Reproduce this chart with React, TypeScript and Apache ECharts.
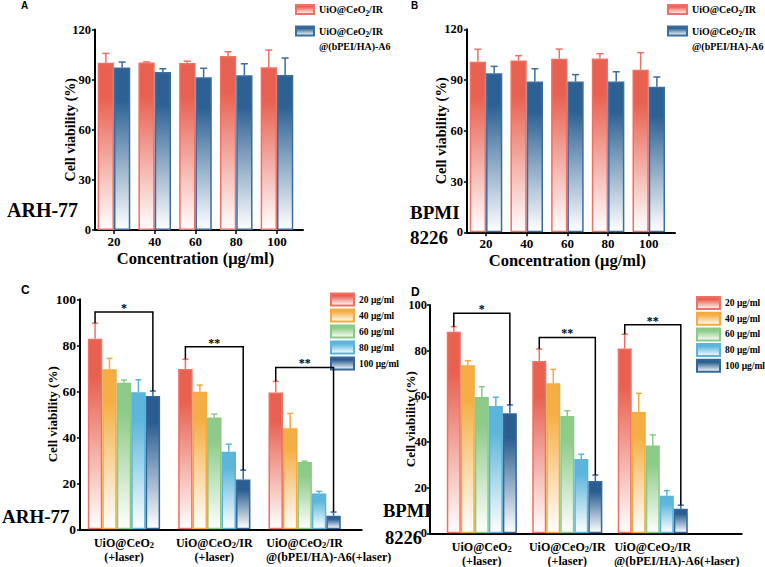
import React, { useEffect, useRef } from 'react';
import * as echarts from 'echarts';

// ---------- data ----------
const concentrations = ['20', '40', '60', '80', '100'];
const pairNames = ['UiO@CeO2/IR', 'UiO@CeO2/IR\n@(bPEI/HA)-A6'];

// Panel A (ARH-77)
const aIR = [100.1, 100.3, 99.9, 104.1, 97.4];
const aIRErr = [5.6, 0.3, 1.1, 2.6, 10.3];
const aHA = [97.3, 94.5, 91.4, 92.6, 92.8];
const aHAErr = [3.2, 2.0, 5.4, 6.9, 10.1];

// Panel B (BPMI 8226)
const bIR = [100.8, 101.6, 102.6, 102.8, 96.1];
const bIRErr = [7.4, 2.8, 5.7, 2.8, 10.1];
const bHA = [94.0, 89.2, 89.2, 89.2, 86.1];
const bHAErr = [4.1, 7.5, 4.0, 5.7, 5.7];

// Panels C / D
const groupLabels = ['UiO@CeO2\n(+laser)', 'UiO@CeO2/IR\n(+laser)', 'UiO@CeO2/IR\n@(bPEI/HA)-A6(+laser)'];
const doseNames = ['20 μg/ml', '40 μg/ml', '60 μg/ml', '80 μg/ml', '100 μg/ml'];

const c20 = [82.9, 69.7, 59.5];
const c40 = [69.6, 59.8, 43.9];
const c60 = [63.7, 48.6, 29.3];
const c80 = [59.6, 33.7, 15.6];
const c100 = [58.0, 21.7, 5.9];
const c20Err = [6.7, 4.2, 4.8];
const c40Err = [4.7, 2.9, 6.5];
const c60Err = [1.2, 1.5, 0.3];
const c80Err = [5.4, 3.3, 0.9];
const c100Err = [2.1, 4.0, 1.6];

const d20 = [88.3, 75.5, 80.9];
const d40 = [73.6, 65.7, 53.1];
const d60 = [59.7, 51.4, 38.5];
const d80 = [55.8, 32.5, 16.5];
const d100 = [52.6, 22.9, 10.8];
const d20Err = [2.2, 5.2, 6.3];
const d40Err = [2.0, 6.1, 8.2];
const d60Err = [4.5, 2.3, 4.6];
const d80Err = [3.8, 2.1, 2.2];
const d100Err = [3.6, 2.6, 1.5];

const cBracket = [94.5, 79.4, 70.4];
const dBracket = [96.4, 85.8, 91.4];
const significance = ['*', '**', '**'];

// ---------- styles ----------
const FONT = 'Liberation Serif';
const SANS = 'Liberation Sans';

const pairColors = [
  { fill: '#E8604F', line: '#EF7064' },
  { fill: '#2D6193', line: '#3A6DA0' },
];
const doseColors = [
  { fill: '#E8604F', line: '#EF7064' },
  { fill: '#F5AE45', line: '#F5AA3E' },
  { fill: '#8DCB88', line: '#8ACA85' },
  { fill: '#5CB6DB', line: '#59B3DA' },
  { fill: '#2B5E90', line: '#3467A0' },
];

function grad(c: string) {
  return {
    type: 'linear', x: 0, y: 0, x2: 0, y2: 1,
    colorStops: [
      { offset: 0, color: c },
      { offset: 0.2, color: c },
      { offset: 1, color: '#ffffff' },
    ],
  };
}

const richLine = (s: string, style = 't') => '{' + style + '|' + s.replace('CeO2', 'CeO}{s|2}{' + style + '|') + '}';

function barSeries(name: string, data: number[], axis: number, col: { fill: string; line: string }, gap: string) {
  return {
    type: 'bar', name, data, xAxisIndex: axis, yAxisIndex: axis,
    barGap: '0%', barCategoryGap: gap, z: 2,
    itemStyle: { color: grad(col.fill), borderColor: col.line, borderWidth: 1.5 },
  };
}

function errSeries(means: number[], errs: number[], axis: number, k: number, n: number, gapFrac: number, color: string, cap: number) {
  return {
    type: 'custom', xAxisIndex: axis, yAxisIndex: axis, z: 3, silent: true,
    data: means.map((m, i) => [i, m, m + errs[i]]),
    encode: { x: 0, y: [1, 2] },
    renderItem: (_p: any, api: any) => {
      const cat = api.value(0);
      const base = api.coord([cat, api.value(1)]);
      const top = api.coord([cat, api.value(2)]);
      const catW = api.size([1, 0])[0];
      const groupW = catW * (1 - gapFrac);
      const bw = groupW / n;
      const x = base[0] - groupW / 2 + bw * (k + 0.5);
      return {
        type: 'group',
        children: [
          { type: 'line', shape: { x1: x, y1: base[1], x2: x, y2: top[1] }, style: { stroke: color, lineWidth: 1.5 } },
          { type: 'line', shape: { x1: x - cap, y1: top[1], x2: x + cap, y2: top[1] }, style: { stroke: color, lineWidth: 1.5 } },
        ],
      };
    },
  };
}

function bracketSeries(levels: number[], leftTops: number[], rightTops: number[], axis: number, n: number, gapFrac: number) {
  return {
    type: 'custom', xAxisIndex: axis, yAxisIndex: axis, z: 4, silent: true,
    data: levels.map((l, i) => [i, l, leftTops[i], rightTops[i]]),
    encode: { x: 0, y: [1, 2, 3] },
    renderItem: (params: any, api: any) => {
      const i = api.value(0);
      const c = api.coord([i, api.value(1)]);
      const catW = api.size([1, 0])[0];
      const groupW = catW * (1 - gapFrac);
      const bw = groupW / n;
      const xL = c[0] - groupW / 2 + bw * 0.5;
      const xR = c[0] - groupW / 2 + bw * (n - 0.5);
      const yL = api.coord([i, api.value(2)])[1];
      const yR = api.coord([i, api.value(3)])[1];
      return {
        type: 'group',
        children: [
          { type: 'polyline', shape: { points: [[xL, yL], [xL, c[1]], [xR, c[1]], [xR, yR]] }, style: { stroke: '#000', lineWidth: 1.5, fill: 'none' } },
          {
            type: 'text', x: (xL + xR) / 2, y: c[1] - 4,
            style: { text: significance[params.dataIndex], fill: '#000', font: `bold 12px ${FONT}`, align: 'center', verticalAlign: 'middle', textAlign: 'center', textVerticalAlign: 'middle' },
          },
        ],
      };
    },
  };
}

function frameX(idx: number) {
  return {
    type: 'value', gridIndex: idx, min: 0, max: 1,
    axisLine: { show: true, onZero: false, lineStyle: { color: '#000', width: 2 } },
    axisTick: { show: false }, axisLabel: { show: false }, splitLine: { show: false },
  };
}
function frameY(idx: number, max: number, interval: number, fs: number, nameFs: number, nameGap: number, margin = 4) {
  return {
    type: 'value', gridIndex: idx, min: 0, max, interval,
    name: 'Cell viability (%)', nameLocation: 'middle', nameGap, nameMoveOverlap: false,
    nameTextStyle: { fontFamily: FONT, fontWeight: 'bold', fontSize: nameFs, color: '#000' },
    axisLine: { show: true, lineStyle: { color: '#000', width: 2 } },
    axisTick: { show: true, length: 3, lineStyle: { color: '#000', width: 1.5 } },
    axisLabel: { margin, fontFamily: FONT, fontWeight: 'bold', fontSize: fs, color: '#000' },
    splitLine: { show: false },
  };
}
function hiddenY(idx: number, max: number) {
  return { type: 'value', gridIndex: idx, min: 0, max, show: false, splitLine: { show: false } };
}
function concX(idx: number) {
  return {
    type: 'category', gridIndex: idx, data: concentrations,
    axisLine: { show: false },
    axisTick: { show: true, alignWithLabel: true, length: 4, lineStyle: { color: '#000', width: 1.5 } },
    axisLabel: { margin: 6, fontFamily: FONT, fontWeight: 'bold', fontSize: 13, lineHeight: 11, color: '#000' },
    name: 'Concentration (μg/ml)', nameLocation: 'middle', nameGap: 21, nameMoveOverlap: false,
    nameTextStyle: { fontFamily: FONT, fontWeight: 'bold', fontSize: 16.5, lineHeight: 14, color: '#000' },
  };
}
const groupRich = {
  t: { fontFamily: FONT, fontWeight: 'bold', fontSize: 12, lineHeight: 14.5, color: '#000' },
  w: { fontFamily: FONT, fontWeight: 'bold', fontSize: 12, lineHeight: 14.5, color: '#000', padding: [0, 0, 0, 48] },
  s: { fontFamily: FONT, fontWeight: 'bold', fontSize: 8.5, lineHeight: 9, color: '#000', verticalAlign: 'bottom' },
};
function groupX(idx: number) {
  return {
    type: 'category', gridIndex: idx, data: groupLabels,
    axisLine: { show: false },
    axisTick: { show: true, alignWithLabel: true, inside: true, length: 2, lineStyle: { color: '#000', width: 2 } },
    axisLabel: {
      interval: 0, margin: 6,
      formatter: (v: string) => {
        const lines = v.split('\n');
        // a long second line starts under the first line's start
        return lines.map((l, j) => richLine(l, j > 0 && l.length > 12 ? 'w' : 't')).join('\n');
      },
      rich: groupRich,
    },
  };
}

const legendRich = (fs: number) => ({
  t: { fontFamily: FONT, fontWeight: 'bold', fontSize: fs, lineHeight: 15, color: '#000' },
  s: { fontFamily: FONT, fontWeight: 'bold', fontSize: fs * 0.72, lineHeight: 8, color: '#000', verticalAlign: 'bottom' },
});
const pairLegendFmt = (name: string) => {
  const lines = name.split('\n').map((l) => richLine(l));
  return lines.length > 1 ? '{t| }\n' + lines.join('\n') : lines[0];
};

function pairLegend(name: string, left: number, top: number, w: number) {
  return {
    left, top, padding: 0, orient: 'vertical', itemWidth: w, itemHeight: 9,
    icon: 'rect', selectedMode: false, data: [name], formatter: pairLegendFmt,
    textStyle: { rich: legendRich(10) },
  };
}

function buildOption() {
  const pairGap = 0.2;
  const cGap = 0.2;
  const dGap = 0.18;

  const series: any[] = [];
  // A
  series.push(barSeries(pairNames[0], aIR, 1, pairColors[0], '20%'));
  series.push(barSeries(pairNames[1], aHA, 1, pairColors[1], '20%'));
  series.push(errSeries(aIR, aIRErr, 1, 0, 2, pairGap, pairColors[0].line, 3.5));
  series.push(errSeries(aHA, aHAErr, 1, 1, 2, pairGap, pairColors[1].line, 3.5));
  // B
  series.push(barSeries(pairNames[0], bIR, 3, pairColors[0], '20%'));
  series.push(barSeries(pairNames[1], bHA, 3, pairColors[1], '20%'));
  series.push(errSeries(bIR, bIRErr, 3, 0, 2, pairGap, pairColors[0].line, 3.5));
  series.push(errSeries(bHA, bHAErr, 3, 1, 2, pairGap, pairColors[1].line, 3.5));
  // C
  const cVals = [c20, c40, c60, c80, c100];
  const cErrs = [c20Err, c40Err, c60Err, c80Err, c100Err];
  cVals.forEach((v, k) => series.push(barSeries(doseNames[k], v, 5, doseColors[k], '20%')));
  cVals.forEach((v, k) => series.push(errSeries(v, cErrs[k], 5, k, 5, cGap, doseColors[k].line, 3)));
  series.push(bracketSeries(cBracket, c20.map((m, i) => m + c20Err[i]), c100.map((m, i) => m + c100Err[i]), 5, 5, cGap));
  // D
  const dVals = [d20, d40, d60, d80, d100];
  const dErrs = [d20Err, d40Err, d60Err, d80Err, d100Err];
  dVals.forEach((v, k) => series.push(barSeries(doseNames[k], v, 7, doseColors[k], '18%')));
  dVals.forEach((v, k) => series.push(errSeries(v, dErrs[k], 7, k, 5, dGap, doseColors[k].line, 3)));
  series.push(bracketSeries(dBracket, d20.map((m, i) => m + d20Err[i]), d100.map((m, i) => m + d100Err[i]), 7, 5, dGap));

  const bigText = (text: string, x: number, y: number, size = 19) => ({
    type: 'text', x, y,
    style: { text, fill: '#000', font: `bold ${size}px ${FONT}`, verticalAlign: 'middle', textVerticalAlign: 'middle' },
  });
  const letter = (text: string, x: number, y: number, size: number) => ({
    type: 'text', x, y,
    style: { text, fill: '#000', font: `bold ${size}px ${SANS}`, verticalAlign: 'middle', textVerticalAlign: 'middle' },
  });

  const g = (left: number, top: number, width: number, height: number) => ({ left, top, width, height, containLabel: false, outerBoundsMode: 'none' });

  return {
    animation: false,
    backgroundColor: '#ffffff',
    textStyle: { fontFamily: FONT },
    grid: [
      g(95, 29.5, 208, 200.5),
      g(93.6, 29.5, 203.75, 200.5),
      g(467, 29.3, 208, 203),
      g(465.7, 29.3, 203.4, 203),
      g(80, 299.3, 281.7, 230),
      g(78.8, 299.3, 271, 230),
      g(430, 305, 311.7, 228.3),
      g(439.1, 305, 256.4, 228.3),
    ],
    xAxis: [frameX(0), concX(1), frameX(2), concX(3), frameX(4), groupX(5), frameX(6), groupX(7)],
    yAxis: [
      frameY(0, 120, 30, 12.5, 14, 18), hiddenY(1, 120),
      frameY(2, 120, 30, 12.5, 14.5, 19), hiddenY(3, 120),
      frameY(4, 100, 20, 13.5, 13, 21), hiddenY(5, 100),
      frameY(6, 100, 20, 12.5, 13, 13, 3), hiddenY(7, 100),
    ],
    legend: [
      pairLegend(pairNames[0], 295, 4, 18),
      pairLegend(pairNames[1], 295, 11, 18),
      pairLegend(pairNames[0], 667, 4, 19),
      pairLegend(pairNames[1], 667, 11, 19),
      {
        left: 330, top: 292.5, padding: 0, orient: 'vertical', itemWidth: 23, itemHeight: 12, itemGap: 2,
        icon: 'rect', selectedMode: false, data: doseNames,
        textStyle: { fontFamily: FONT, fontWeight: 'bold', fontSize: 9.5, color: '#000' },
      },
      {
        left: 696, top: 296, padding: 0, orient: 'vertical', itemWidth: 23, itemHeight: 12, itemGap: 1.7,
        icon: 'rect', selectedMode: false, data: doseNames,
        textStyle: { fontFamily: FONT, fontWeight: 'bold', fontSize: 9.5, color: '#000' },
      },
    ],
    graphic: [
      letter('A', 21, 5, 10),
      letter('B', 411, 5, 10),
      letter('C', 21, 290, 12),
      letter('D', 411, 292, 12),
      bigText('ARH-77', 7, 210, 20),
      bigText('BPMI', 410, 212),
      bigText('8226', 410, 237),
      bigText('ARH-77', 2, 516),
      bigText('BPMI', 383, 511, 18.5),
      bigText('8226', 385, 538, 18.5),
    ],
    series,
  };
}

export default function App() {
  const ref = useRef<HTMLDivElement>(null);
  useEffect(() => {
    const chart = echarts.init(ref.current as HTMLDivElement, null, { renderer: 'svg' });
    chart.setOption(buildOption() as any);
    return () => chart.dispose();
  }, []);
  return (
    <div
      ref={ref}
      style={{ position: 'absolute', left: 0, top: 0, width: 765, height: 567, background: '#fff' }}
    />
  );
}
